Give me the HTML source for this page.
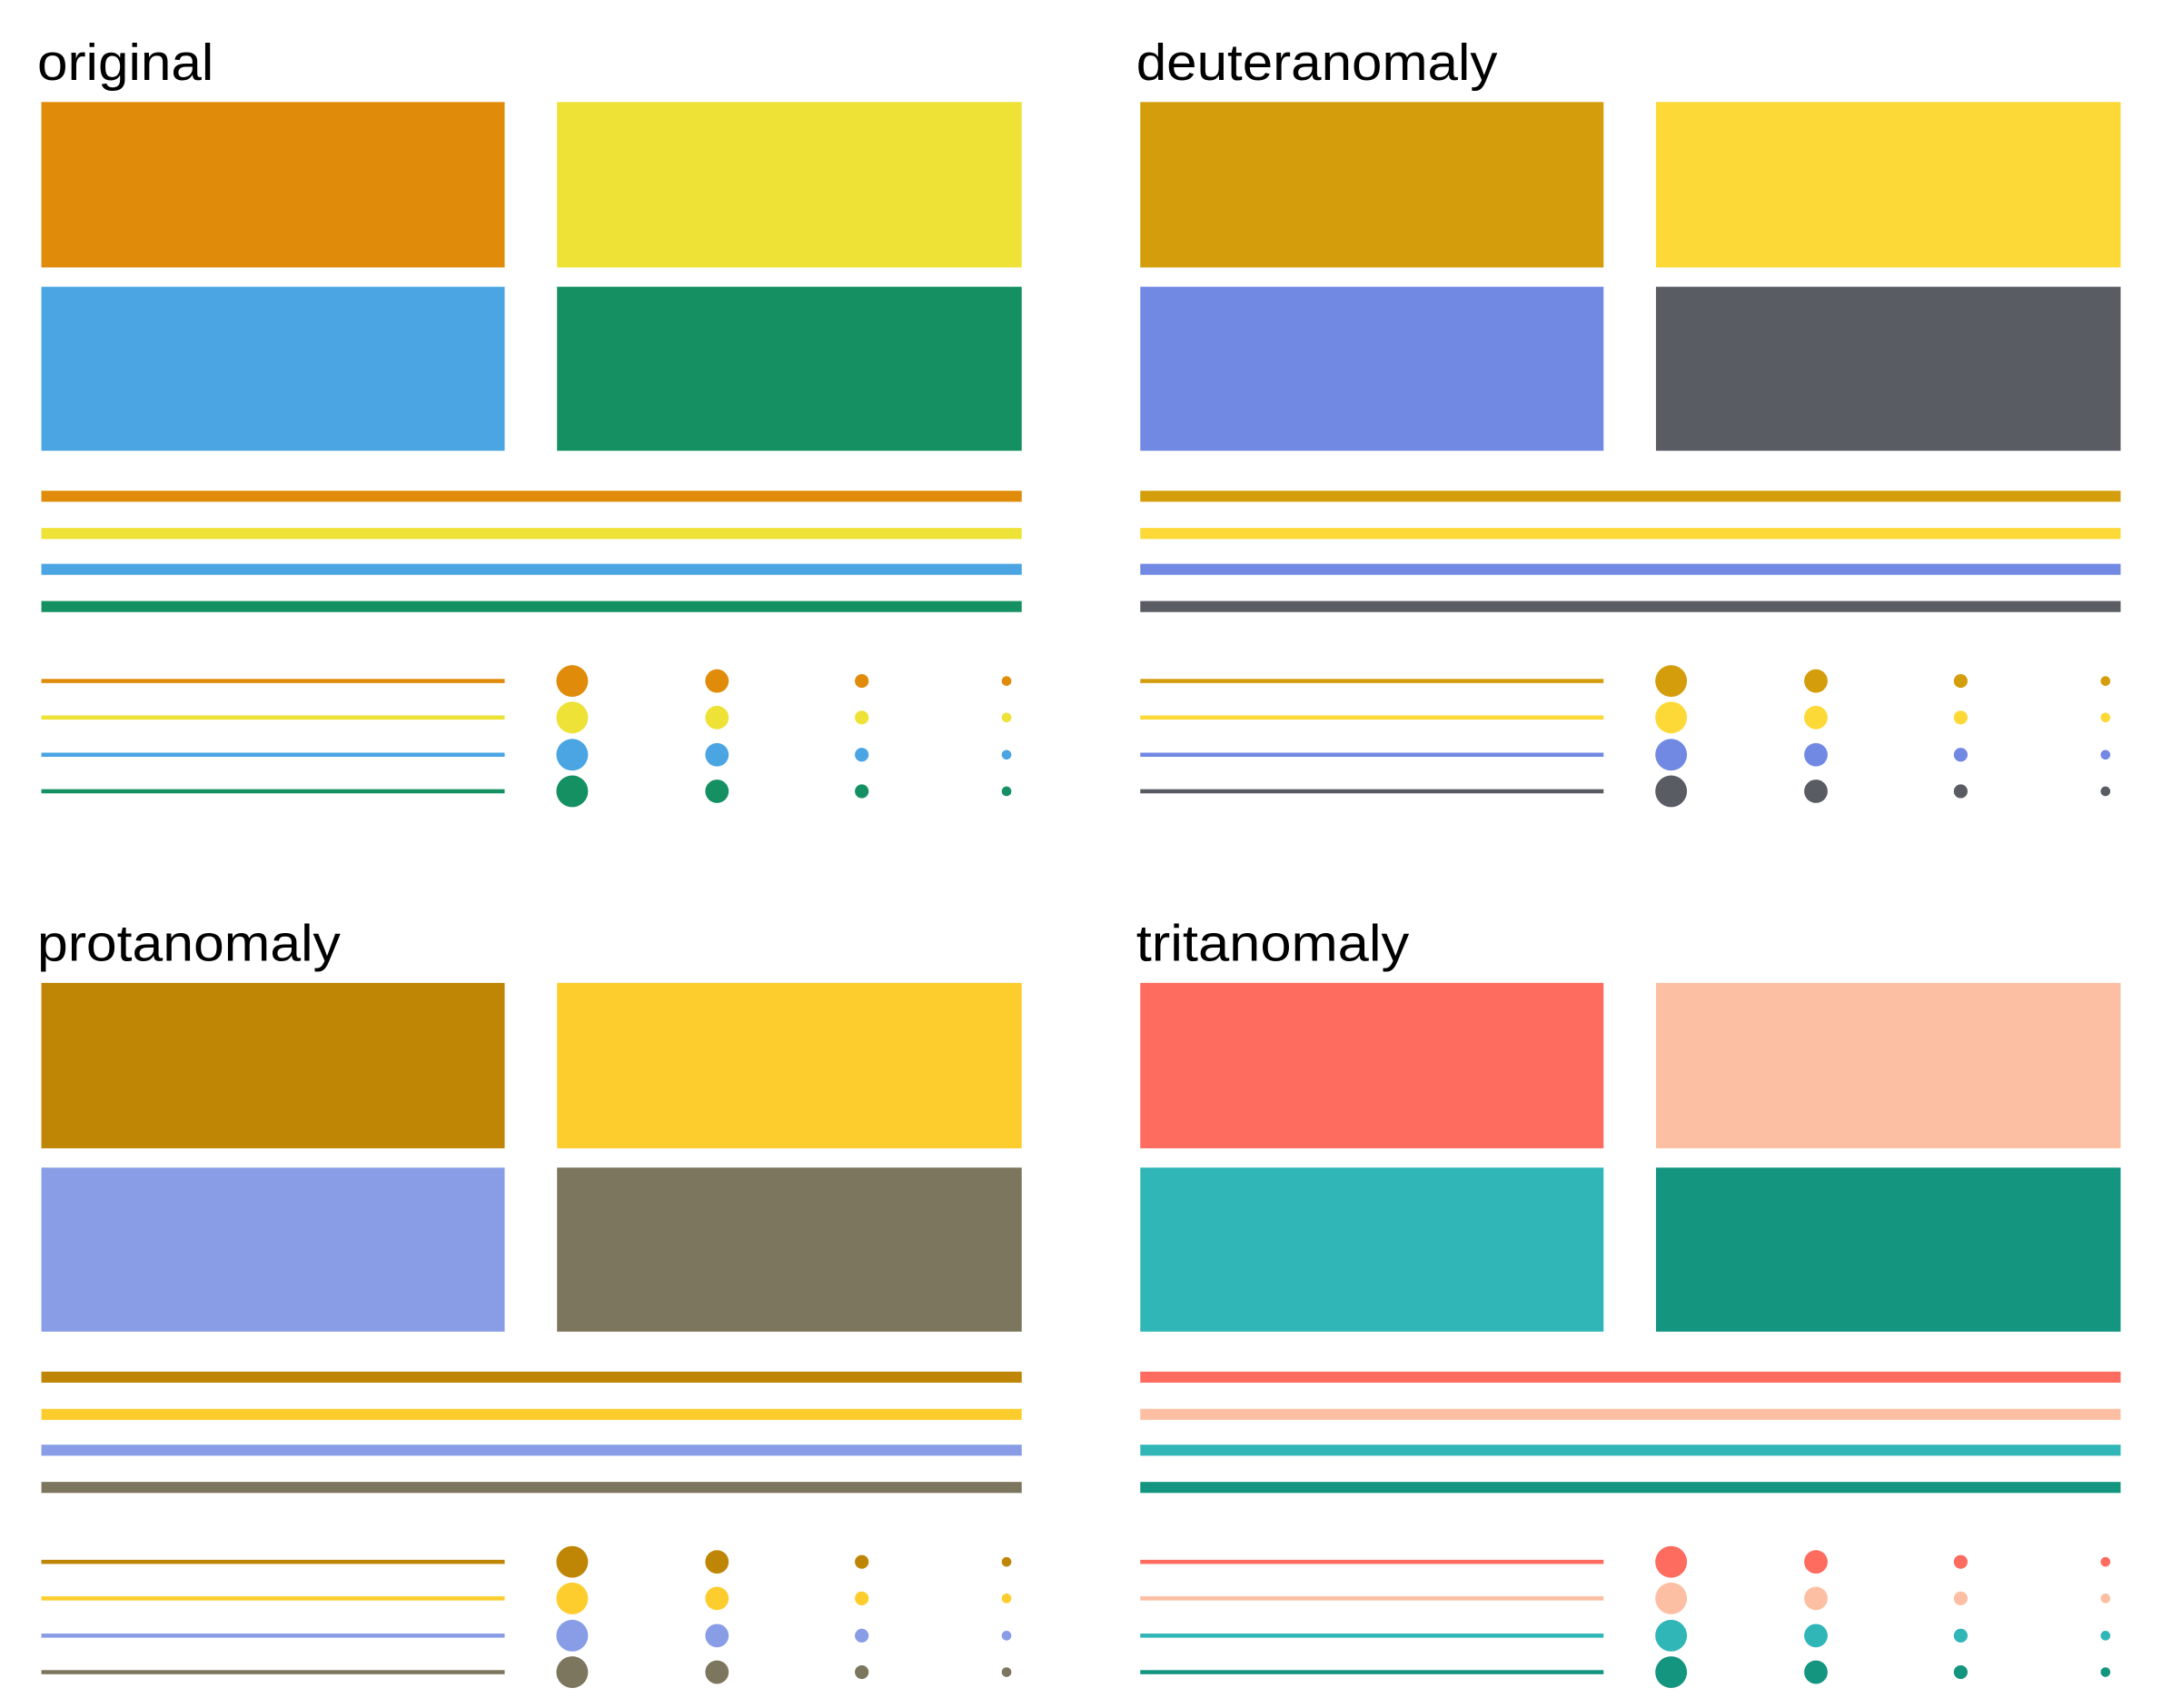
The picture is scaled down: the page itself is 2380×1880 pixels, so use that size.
<!DOCTYPE html>
<html><head><meta charset="utf-8"><style>html,body{margin:0;padding:0;background:#fff}svg{display:block}
.a{fill:var(--a)}.b{fill:var(--b)}.c{fill:var(--c)}.d{fill:var(--d)}</style></head>
<body>
<svg width="2380" height="1880" viewBox="0 0 1568 1239" preserveAspectRatio="none" xmlns="http://www.w3.org/2000/svg">
<rect width="1568" height="1239" fill="#fff"/>
<defs>
<g id="panel">
<rect class="a" x="30" y="74" width="336" height="120"/>
<rect class="b" x="404" y="74" width="337" height="120"/>
<rect class="c" x="30" y="208" width="336" height="119"/>
<rect class="d" x="404" y="208" width="337" height="119"/>
<rect class="a" x="30" y="356" width="711" height="8"/>
<rect class="b" x="30" y="383" width="711" height="8"/>
<rect class="c" x="30" y="409" width="711" height="8"/>
<rect class="d" x="30" y="436" width="711" height="8"/>
<rect class="a" x="30" y="492.5" width="336" height="3"/>
<rect class="b" x="30" y="519" width="336" height="3"/>
<rect class="c" x="30" y="546" width="336" height="3"/>
<rect class="d" x="30" y="572.5" width="336" height="3"/>
<circle class="a" cx="415" cy="494" r="11.5"/><circle class="a" cx="520" cy="494" r="8.5"/><circle class="a" cx="625" cy="494" r="5"/><circle class="a" cx="730" cy="494" r="3.5"/>
<circle class="b" cx="415" cy="520.5" r="11.5"/><circle class="b" cx="520" cy="520.5" r="8.5"/><circle class="b" cx="625" cy="520.5" r="5"/><circle class="b" cx="730" cy="520.5" r="3.5"/>
<circle class="c" cx="415" cy="547.5" r="11.5"/><circle class="c" cx="520" cy="547.5" r="8.5"/><circle class="c" cx="625" cy="547.5" r="5"/><circle class="c" cx="730" cy="547.5" r="3.5"/>
<circle class="d" cx="415" cy="574" r="11.5"/><circle class="d" cx="520" cy="574" r="8.5"/><circle class="d" cx="625" cy="574" r="5"/><circle class="d" cx="730" cy="574" r="3.5"/>
</g>
</defs>
<use href="#panel" style="--a:#E08C0A;--b:#EDE235;--c:#4AA5E2;--d:#159062"/>
<use href="#panel" transform="translate(797,0)" style="--a:#D49D0C;--b:#FDD937;--c:#7289E3;--d:#5A5C64"/>
<use href="#panel" transform="translate(0,639)" style="--a:#BF8606;--b:#FDCD2E;--c:#889DE6;--d:#7D765E"/>
<use href="#panel" transform="translate(797,639)" style="--a:#FE6B5F;--b:#FDBFA3;--c:#31B6B8;--d:#149580"/>
<g font-family="Liberation Sans, DejaVu Sans, sans-serif" font-size="37" fill="#000">
<text x="27" y="58" textLength="128" lengthAdjust="spacingAndGlyphs">original</text>
<text x="824" y="58" textLength="262" lengthAdjust="spacingAndGlyphs">deuteranomaly</text>
<text x="27" y="697" textLength="220" lengthAdjust="spacingAndGlyphs">protanomaly</text>
<text x="824" y="697" textLength="198" lengthAdjust="spacingAndGlyphs">tritanomaly</text>
</g>
</svg>
</body></html>
